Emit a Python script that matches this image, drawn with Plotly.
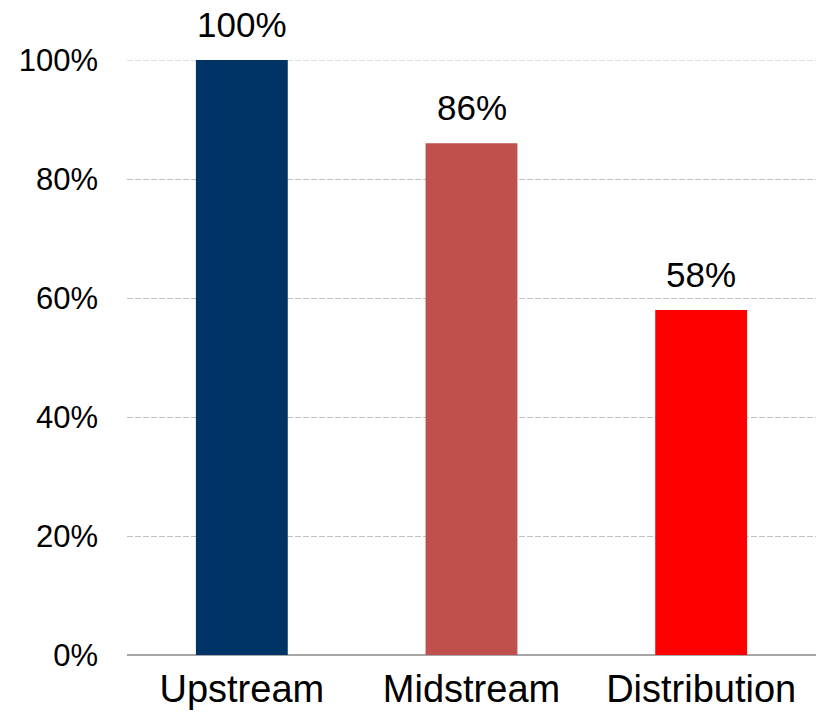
import plotly.graph_objects as go

# Share of segment by stage
categories = ["Upstream", "Midstream", "Distribution"]
values = [100, 86, 58]
colors = ["#003366", "#C0504D", "#FF0000"]
y_ticks = [0, 20, 40, 60, 80, 100]
y_tick_labels = ["0%", "20%", "40%", "60%", "80%", "100%"]

FONT = "Liberation Sans, Arial, sans-serif"
GRID_COLOR = "#C0C0C0"
GRID_DASH = "6px,2px"

fig = go.Figure(
    go.Bar(
        x=categories,
        y=values,
        marker=dict(color=colors, line=dict(width=0)),
        width=0.4,
        hoverinfo="skip",
    )
)

# Value labels above each bar
for cat, val in zip(categories, values):
    fig.add_annotation(
        x=cat,
        y=val,
        text=f"{val}%",
        showarrow=False,
        yanchor="bottom",
        yshift=14,
        font=dict(family=FONT, size=35, color="#000000"),
    )

# Gridline at the top of the axis range (not drawn by default at the edge)
fig.add_shape(
    type="line",
    xref="paper",
    yref="y",
    x0=0,
    x1=1,
    y0=y_ticks[-1],
    y1=y_ticks[-1],
    line=dict(color=GRID_COLOR, width=1, dash=GRID_DASH),
    layer="below",
)

fig.update_layout(
    width=816,
    height=720,
    margin=dict(l=127, r=0, t=60, b=65),
    paper_bgcolor="white",
    plot_bgcolor="white",
    showlegend=False,
    font=dict(family=FONT, color="#000000"),
    xaxis=dict(
        showgrid=False,
        showline=False,
        zeroline=False,
        ticks="",
        tickfont=dict(size=38, family=FONT, color="#000000"),
        ticklabelstandoff=8,
    ),
    yaxis=dict(
        range=[0, 100],
        tickvals=y_ticks,
        ticktext=y_tick_labels,
        showgrid=True,
        gridcolor=GRID_COLOR,
        griddash=GRID_DASH,
        gridwidth=1,
        zeroline=True,
        zerolinecolor="#A6A6A6",
        zerolinewidth=2,
        showline=False,
        ticks="",
        tickfont=dict(size=31, family=FONT, color="#000000"),
        ticklabelstandoff=28,
    ),
)

fig.write_html("out.html")
